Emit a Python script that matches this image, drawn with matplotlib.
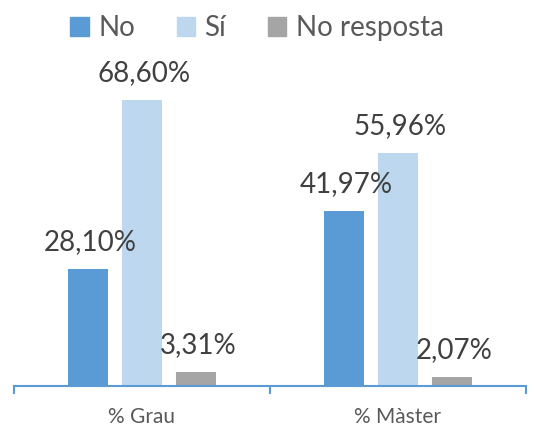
import matplotlib.pyplot as plt
from matplotlib.patches import Patch

# dades
categories = ['% Grau', '% Màster']
series = ['No', 'Sí', 'No resposta']
values_no = [28.10, 41.97]
values_si = [68.60, 55.96]
values_nr = [3.31, 2.07]

colors = ['#5B9BD5', '#BDD7EE', '#A5A5A5']
font = ['Lato', 'DejaVu Sans']
plt.rcParams['font.family'] = font

fig = plt.figure(figsize=(5.34, 4.28), dpi=100)
ax = fig.add_axes([14 / 534, 42 / 428, 512 / 534, 333 / 428])

width = 0.16
step = 0.211
all_values = [values_no, values_si, values_nr]
for k, vals in enumerate(all_values):
    xs = [i + (k - 1) * step for i in range(len(categories))]
    ax.bar(xs, vals, width=width, color=colors[k], zorder=2)
    for x, v in zip(xs, vals):
        label = f'{v:.2f}%'.replace('.', ',')
        ax.annotate(label, (x, v), xytext=(2, 19), textcoords='offset pixels',
                    ha='center', va='baseline', fontsize=20, color='#404040')

ax.set_xlim(-0.5, 1.5)
ax.set_ylim(0, 80)
for s in ['top', 'right', 'left']:
    ax.spines[s].set_visible(False)
ax.spines['bottom'].set_color('#5B9BD5')
ax.spines['bottom'].set_linewidth(1.5)
ax.set_yticks([])
ax.set_xticks([0, 1])
ax.set_xticklabels(categories, fontsize=15, color='#595959')
ax.tick_params(axis='x', which='major', length=0, pad=15)
ax.set_xticks([-0.5, 0.5, 1.5], minor=True)
ax.tick_params(axis='x', which='minor', length=6, width=1.5, color='#5B9BD5')

handles = [Patch(color=c, label=s) for c, s in zip(colors, series)]
fig.legend(handles=handles, loc='center', bbox_to_anchor=(257 / 534, 1 - 28 / 428),
           ncol=3, frameon=False, fontsize=20, handlelength=0.65, handleheight=0.65,
           handletextpad=0.35, columnspacing=1.5, labelcolor='#595959')

fig.savefig('out.png', dpi=100)
